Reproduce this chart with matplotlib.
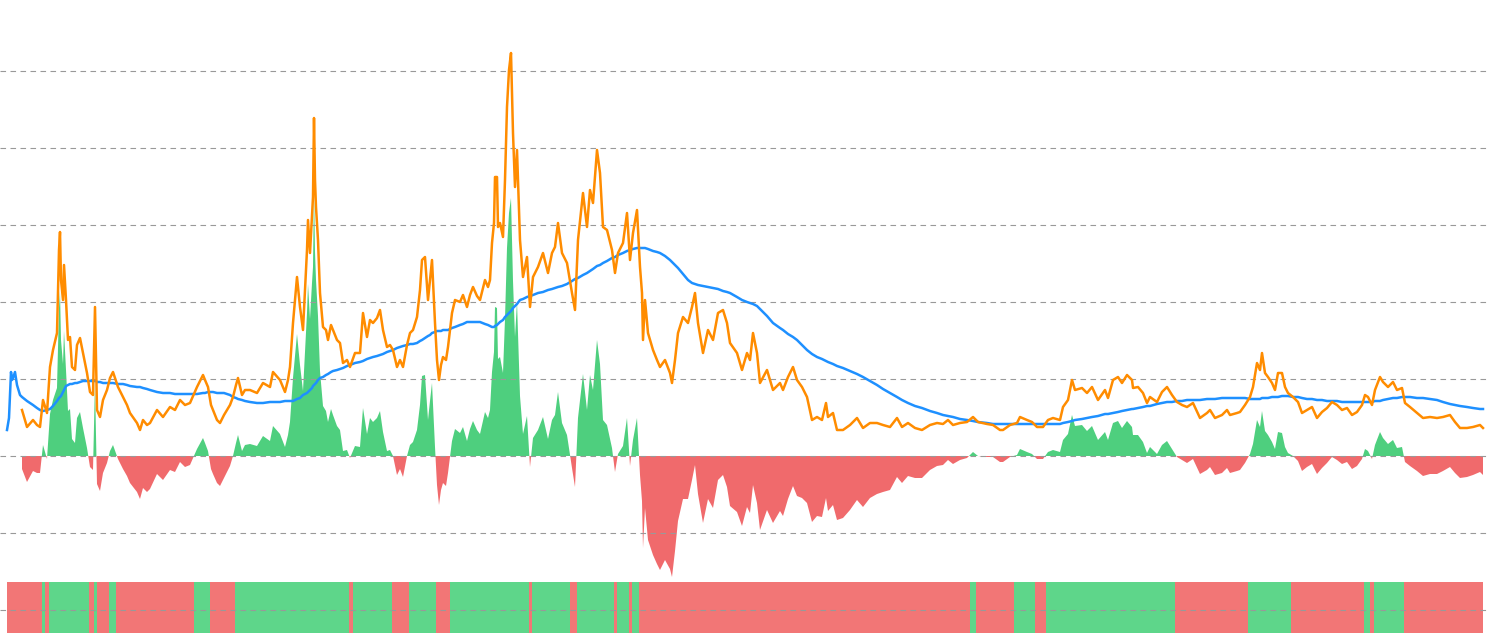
import matplotlib
matplotlib.use("Agg")
import matplotlib.pyplot as plt
import numpy as np

nan = np.nan

# sample days (x), price, moving average
day = [7, 9, 11, 12, 13, 15, 17, 20,
       22, 27, 33, 37, 40, 43, 47, 50, 53, 57, 59, 60, 61, 63, 64, 66, 68, 70, 72, 75, 77, 80, 83, 87, 90, 93, 95, 96, 97, 100,
       103, 107, 110, 113, 118, 123, 127, 130, 137, 140, 143, 147, 150, 157, 163, 170, 175, 180, 185, 190, 197,
       203, 205, 208, 211, 213, 217, 220, 224, 227, 230, 233, 236, 238, 242, 245, 250, 257, 263, 270, 273, 280, 285, 288, 290, 293, 295, 297,
       300, 303, 305, 307, 308, 310, 312, 313, 314, 315, 316, 318, 320, 323, 326, 328, 331, 333, 337, 340, 343, 347, 350, 355, 360, 363, 367, 370, 373, 377, 380, 383, 387, 390, 393, 397,
       400, 403, 407, 410, 413, 417, 420, 422, 425, 428, 430, 432, 435, 437, 439, 441, 443, 446, 448, 452, 455, 460, 463, 467, 470, 473, 477, 480, 485, 488, 490, 492, 494, 495, 497, 498,
       500, 503, 505, 507, 509, 511, 513, 515, 517, 520, 523, 527, 530, 533, 538, 543, 548, 552, 555, 558, 562, 567, 572, 575, 578, 583, 587, 590, 593, 597,
       600, 603, 607, 612, 615, 618, 623, 627, 630, 633, 637, 640, 642, 643, 645, 648, 653, 657, 660, 665, 670, 672, 675, 678, 683, 688, 692, 695, 698,
       703, 708, 713, 718, 723, 727, 730, 737, 742, 747, 750, 753, 757, 760, 767, 773, 780, 783, 788, 793, 797,
       802, 807, 812, 817, 822, 826, 828, 833, 837, 843, 850, 857, 863, 870, 877, 883, 890, 897,
       902, 908, 915, 922, 930, 937, 943, 948, 953, 960, 967, 973, 978, 987, 993,
       1000, 1003, 1010, 1017, 1020, 1027, 1032, 1037, 1043, 1048, 1053, 1060, 1063, 1068, 1072, 1075, 1082, 1087, 1092, 1098,
       1105, 1108, 1113, 1118, 1122, 1127, 1132, 1133, 1138, 1143, 1147, 1150, 1157, 1162, 1167, 1172, 1177, 1182, 1187, 1193,
       1200, 1207, 1210, 1215, 1222, 1227, 1230, 1237, 1240, 1245, 1250, 1253, 1257, 1260, 1262, 1265, 1268, 1272, 1275, 1278, 1282, 1285, 1288, 1293, 1298,
       1302, 1307, 1312, 1317, 1322, 1327, 1332, 1337, 1342, 1347, 1352, 1357, 1362, 1365, 1368, 1372, 1375, 1380, 1383, 1388, 1393, 1397,
       1402, 1405, 1410, 1417, 1423, 1430, 1437, 1443, 1450, 1455, 1460, 1467, 1473, 1480, 1483]

price = [nan, nan, nan, nan, nan, nan, nan, nan,
         46, 29, 36, 31, 29, 56, 43, 89, 106, 123, 206, 224, 176, 156, 191, 156, 116, 119, 89, 86, 111, 118, 103, 83, 64, 61, 149, 96, 46, 39,
         56, 66, 78, 84, 69, 59, 51, 43, 33, 26, 36, 31, 33, 46, 39, 49, 46, 56, 51, 53, 69,
         81, 76, 69, 51, 46, 36, 33, 41, 46, 51, 59, 71, 78, 61, 66, 66, 63, 73, 69, 84, 76, 64, 76, 89, 133, 156, 179,
         149, 126, 166, 206, 236, 203, 241, 259, 338, 276, 249, 216, 163, 129, 126, 116, 131, 126, 116, 113, 93, 96, 89, 103, 103, 143, 119, 136, 133, 138, 146, 126, 109, 111, 106, 89,
         96, 89, 111, 123, 126, 139, 166, 196, 199, 156, 176, 196, 133, 96, 76, 91, 99, 96, 109, 143, 156, 154, 161, 149, 161, 169, 160, 156, 176, 169, 176, 213, 233, 279, 279, 229,
         233, 219, 276, 349, 386, 403, 323, 269, 306, 216, 179, 199, 149, 179, 189, 203, 183, 203, 209, 233, 203, 193, 163, 146, 216, 263, 229, 266, 253, 306,
         283, 229, 226, 206, 183, 203, 213, 243, 196, 223, 246, 189, 163, 116, 156, 123, 106, 96, 89, 96, 83, 73, 96, 123, 139, 133, 149, 163, 133,
         103, 126, 116, 143, 146, 133, 113, 103, 86, 103, 96, 123, 103, 73, 86, 66, 73, 66, 79, 89, 76,
         69, 59, 36, 39, 36, 53, 39, 43, 26, 26, 31, 38, 28, 33, 33, 31, 29, 38,
         29, 33, 28, 26, 31, 33, 32, 36, 31, 33, 34, 39, 34, 32, 31,
         26, 26, 31, 33, 39, 36, 34, 29, 29, 36, 38, 36, 49, 56, 76, 66, 68, 63, 69, 56,
         66, 58, 76, 79, 73, 81, 76, 68, 69, 63, 53, 59, 54, 64, 69, 61, 54, 51, 49, 53,
         38, 43, 46, 38, 41, 46, 41, 43, 44, 51, 59, 69, 93, 86, 103, 83, 79, 73, 66, 83, 83, 69, 63, 59, 54,
         43, 46, 49, 38, 44, 48, 54, 51, 46, 48, 41, 44, 51, 61, 59, 51, 66, 79, 74, 69, 74, 66,
         68, 53, 49, 43, 38, 39, 38, 39, 41, 34, 28, 28, 29, 31, 28]

ma = [26, 38, 84, 76, 78, 84, 71, 61,
      59, 55, 51, 48, 46, 45, 46, 47, 50, 55, 58, 59, 60, 64, 66, 70, 71, 72, 72, 73, 73, 74, 75, 75, 75, 75, 75, 75, 74, 74,
      73, 73, 73, 73, 72, 72, 71, 70, 69, 69, 68, 67, 66, 64, 63, 63, 62, 62, 62, 62, 62,
      63, 63, 64, 64, 64, 63, 63, 63, 62, 61, 59, 58, 57, 56, 55, 54, 53, 53, 54, 54, 54, 55, 55, 55, 55, 56, 57,
      58, 61, 62, 63, 64, 66, 68, 70, 71, 72, 73, 76, 78, 79, 81, 82, 84, 85, 86, 87, 88, 90, 91, 93, 94, 95, 97, 98, 99, 100, 101, 102, 104, 105, 106, 108,
      109, 110, 111, 112, 112, 113, 115, 116, 118, 120, 121, 123, 124, 125, 125, 125, 126, 126, 126, 128, 129, 131, 132, 134, 134, 134, 134, 134, 132, 131, 130, 129, 129, 130, 131, 132,
      134, 136, 139, 141, 143, 145, 148, 150, 152, 156, 157, 159, 160, 161, 163, 164, 166, 167, 168, 169, 170, 172, 175, 177, 178, 181, 183, 185, 187, 190,
      191, 193, 195, 198, 199, 201, 203, 205, 206, 207, 208, 208, 208, 208, 208, 207, 205, 204, 203, 200, 196, 194, 191, 188, 182, 176, 173, 172, 171,
      170, 169, 168, 167, 165, 164, 163, 159, 156, 154, 153, 152, 150, 147, 140, 133, 128, 126, 122, 119, 116,
      111, 106, 102, 99, 97, 95, 94, 92, 90, 88, 85, 82, 79, 75, 71, 67, 63, 59,
      56, 53, 50, 48, 45, 43, 41, 40, 39, 37, 36, 35, 34, 33, 32,
      32, 32, 32, 32, 32, 32, 32, 32, 32, 32, 32, 32, 33, 34, 35, 36, 37, 38, 39, 40,
      42, 42, 43, 44, 45, 46, 47, 47, 48, 49, 50, 50, 52, 53, 54, 54, 55, 55, 56, 56,
      56, 57, 57, 57, 58, 58, 58, 58, 58, 58, 57, 57, 57, 57, 58, 58, 58, 59, 59, 59, 60, 60, 60, 59, 59,
      58, 57, 57, 56, 56, 55, 55, 55, 54, 54, 54, 54, 54, 54, 54, 54, 55, 55, 56, 57, 58, 58,
      59, 59, 59, 58, 58, 57, 56, 54, 52, 51, 50, 49, 48, 47, 47]

grid_levels = [-154, -77, 0, 77, 154, 231, 308, 385]

d = np.array(day, dtype=float)
p = np.array(price, dtype=float)
m = np.array(ma, dtype=float)
diff = p - m

green = '#4ecf7e'
red = '#f06a6c'

fig = plt.figure(figsize=(14.9, 6.33), dpi=100)
ax = fig.add_axes([0, 0, 1, 1])

# histogram of price - ma
ax.fill_between(d, diff, 0, where=diff >= 0, interpolate=True, color=green, lw=0, zorder=1)
ax.fill_between(d, diff, 0, where=diff < 0, interpolate=True, color=red, lw=0, zorder=1)

# bottom signal strip
edges = np.concatenate([[d[0]], (d[1:] + d[:-1]) / 2, [d[-1]]])
strip_col = np.where(diff > 0, '#5ed68a', '#f27676')
ax.bar(edges[:-1], -60, width=np.diff(edges), bottom=-126, align='edge',
       color=strip_col, lw=0, zorder=1)

ax.plot(d, m, color='#1e90ff', lw=1.8, zorder=3)
ax.plot(d, p, color='#ff8c00', lw=1.8, zorder=3)

ax.set_xlim(0, 1490)
ax.set_ylim(-177, 456)
ax.set_yticks(grid_levels)
ax.set_xticks([])
ax.grid(axis='y', color='#999999', lw=0.8, ls=(0, (5, 4)), zorder=2)
ax.set_axisbelow(False)
ax.tick_params(left=False, bottom=False, labelleft=False, labelbottom=False)
for s in ax.spines.values():
    s.set_visible(False)

fig.savefig('out.png', dpi=100)
